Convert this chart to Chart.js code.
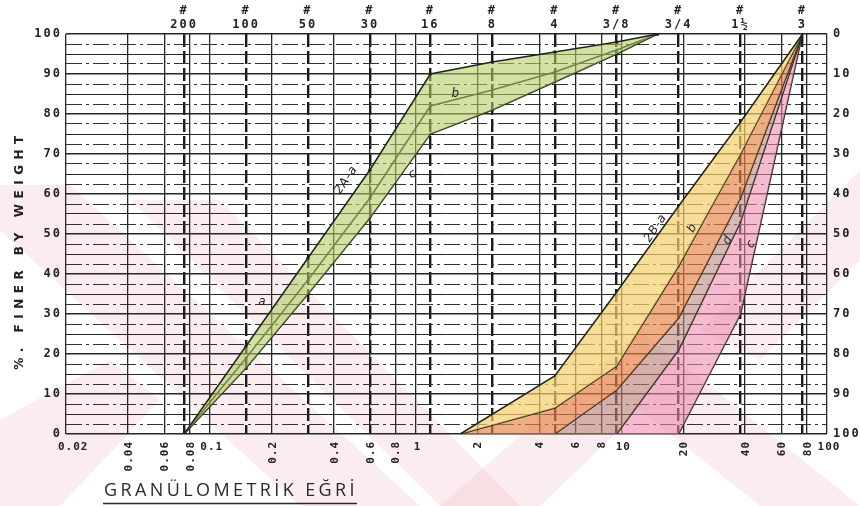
<!DOCTYPE html>
<html>
<head>
<meta charset="utf-8">
<script src="https://cdn.jsdelivr.net/npm/chart.js@4.4.1/dist/chart.umd.min.js"></script>
<style>
html,body{margin:0;padding:0;background:#fff;}
#wrap{width:860px;height:506px;}
</style>
</head>
<body>
<div id="wrap"><canvas id="c" width="860" height="506"></canvas></div>
<script>
// ---------------- data ----------------
const xTickValues  = [0.02,0.04,0.06,0.08,0.1,0.2,0.4,0.6,0.8,1,2,4,6,8,10,20,40,60,80,100];
const xTickLabels  = ['0.02','0.04','0.06','0.08','0.1','0.2','0.4','0.6','0.8','1','2','4','6','8','10','20','40','60','80','100'];
const xTickUpright = [true,false,false,false,true,false,false,false,false,true,false,false,false,false,true,false,false,false,false,true];

const sieveSizes  = [0.075,0.15,0.3,0.6,1.18,2.36,4.75,9.5,19,38,76];
const sieveLabels = ['200','100','50','30','16','8','4','3/8','3/4','1½','3'];

const minorGridValues = [2.5,7.5,12.5,17.5,22.5,27.5,32.5,37.5,42.5,47.5,52.5,57.5,62.5,67.5,72.5,77.5,82.5,87.5,92.5,97.5];

// 2A band (green)
const sizes2A  = [0.075,0.15,0.3,0.6,1.18,2.36,4.75,9.5,15];
const pass2A_a = [0,22,44,66,90,93,95.5,98,100];
const pass2A_b = [0,19,38.5,59,82,86,90.5,96,100];
const pass2A_c = [0,16.5,35,54,75,81,88,95,100];

// 2B band (yellow / orange / pink)
const sizes2B  = [1.65,4.75,9.5,19,38,76];
const pass2B_1 = [0,14.5,35.5,57,78,100];
const pass2B_2 = [0,6.5,17,42,70,100];
const pass2B_3 = [0,0,11,29,59,100];
const pass2B_4 = [0,0,0,21,53,100];
const pass2B_5 = [0,0,0,0,30,100];

// curve annotations (text, size mm, percent, rotation)
const curveNotes = [
  ['2A-a',0.46,63.5,-56], ['b',1.57,85,0], ['c',0.97,65,-30], ['a',0.18,33,0],
  ['2B-a',14.7,51.5,-56], ['b',22.2,51.5,-60], ['d',33,48.5,-60], ['c',42.8,47.5,-60]
];

// ---------------- styles ----------------
const INK = '#222';
const tickFont = {family:'"DejaVu Sans Mono", monospace', weight:'bold', size:12};

function mk(xs, ys, fillColor, fillTarget, pr){
  return {
    data: xs.map((x,i)=>({x:x, y:ys[i]})),
    borderColor: '#1f2419',
    borderWidth: 1.5,
    pointRadius: pr,
    pointBackgroundColor: '#1f2419',
    pointBorderWidth: 0,
    backgroundColor: fillColor || 'transparent',
    fill: fillTarget ? fillTarget : false,
    tension: 0,
    xAxisID: 'x', yAxisID: 'y'
  };
}

const watermark = {
  id:'watermark',
  beforeDraw(chart){
    const ctx = chart.ctx;
    ctx.save();
    ctx.fillStyle = '#ffffff';
    ctx.fillRect(0,0,chart.width,chart.height);
    ctx.fillStyle = 'rgba(238,180,188,0.24)';
    const polys = [
      [[0,185],[70,185],[420,506],[300,506],[0,230]],
      [[130,200],[220,200],[520,506],[440,506]],
      [[440,506],[640,330],[860,506],[760,506],[640,410],[540,506]],
      [[700,330],[860,170],[860,260],[760,360]],
      [[0,420],[0,506],[60,506],[160,400],[110,360]]
    ];
    polys.forEach(p=>{
      ctx.beginPath();
      p.forEach(([x,y],i)=> i?ctx.lineTo(x,y):ctx.moveTo(x,y));
      ctx.closePath(); ctx.fill();
    });
    ctx.restore();
    ctx.letterSpacing = '2px';
  }
};

const texts = {
  id:'texts',
  afterDraw(chart){
    const ctx = chart.ctx, xs = chart.scales.x, ys = chart.scales.y, ca = chart.chartArea;
    ctx.save();
    ctx.fillStyle = INK;
    ctx.font = 'bold 11px "DejaVu Sans Mono", monospace';
    ctx.letterSpacing = '1px';
    xTickValues.forEach((v,i)=>{
      const px = xs.getPixelForValue(v);
      if (xTickUpright[i]) {
        ctx.textAlign = i===0 ? 'left' : 'center';
        ctx.textBaseline = 'middle';
        ctx.fillText(xTickLabels[i], i===0 ? px-8 : px+2, ca.bottom+13);
      } else {
        ctx.save();
        ctx.translate(px+1, ca.bottom+7);
        ctx.rotate(-Math.PI/2);
        ctx.textAlign = 'right';
        ctx.textBaseline = 'middle';
        ctx.fillText(xTickLabels[i], 0, 0);
        ctx.restore();
      }
    });
    // left axis title
    ctx.save();
    ctx.translate(20, (ca.top+ca.bottom)/2 + 16);
    ctx.rotate(-Math.PI/2);
    ctx.font = 'bold 12px "DejaVu Sans", sans-serif';
    ctx.letterSpacing = '5.5px';
    ctx.textAlign = 'center'; ctx.textBaseline = 'middle';
    ctx.fillText('%. FINER BY WEIGHT', 0, 0);
    ctx.restore();
    // curve notes
    ctx.font = 'italic 12px "DejaVu Sans", sans-serif';
    ctx.letterSpacing = '1px';
    curveNotes.forEach(([t,x,y,rot])=>{
      ctx.save();
      ctx.translate(xs.getPixelForValue(x), ys.getPixelForValue(y));
      ctx.rotate(rot*Math.PI/180);
      ctx.textAlign='center'; ctx.textBaseline='middle';
      ctx.fillText(t,0,0);
      ctx.restore();
    });
    // bottom title
    ctx.font = '18px "Open Sans", sans-serif';
    ctx.letterSpacing = '3.4px';
    ctx.fillStyle = '#2a2a2a';
    ctx.textAlign = 'left'; ctx.textBaseline = 'alphabetic';
    ctx.fillText('GRANÜLOMETRİK EĞRİ', 104, 496);
    ctx.strokeStyle = '#2a2a2a'; ctx.lineWidth = 1.4;
    ctx.beginPath(); ctx.moveTo(103,503.5); ctx.lineTo(357,503.5); ctx.stroke();
    ctx.restore();
  }
};

new Chart(document.getElementById('c'), {
  type: 'line',
  data: { datasets: [
    mk(sizes2A, pass2A_a, 'rgba(178,204,98,0.58)', '+2', 1.8),
    mk(sizes2A, pass2A_b, null, false, 1.5),
    mk(sizes2A, pass2A_c, null, false, 1.5),
    mk(sizes2B, pass2B_1, 'rgba(245,206,108,0.7)', '+1', 0),
    mk(sizes2B, pass2B_2, 'rgba(230,130,70,0.66)', '+1', 0),
    mk(sizes2B, pass2B_3, 'rgba(186,132,122,0.58)', '+1', 0),
    mk(sizes2B, pass2B_4, 'rgba(238,138,176,0.58)', '+1', 0),
    mk(sizes2B, pass2B_5, null, false, 0)
  ]},
  options: {
    responsive: false,
    animation: false,
    layout: { padding: 0 },
    plugins: { legend: {display:false}, tooltip: {enabled:false}, title:{display:false} },
    scales: {
      x: {
        type:'logarithmic', position:'bottom', min:0.02, max:100,
        afterBuildTicks: s => { s.ticks = xTickValues.map(v=>({value:v})); },
        ticks: { display:false },
        grid: { color:'#262626', lineWidth:1.3, drawTicks:false },
        border: { display:false },
        afterFit: s => { s.height = 72; }
      },
      x2: {
        type:'logarithmic', position:'top', min:0.02, max:100,
        afterBuildTicks: s => { s.ticks = sieveSizes.map(v=>({value:v})); },
        ticks: { autoSkip:false, maxRotation:0, padding:2, color:INK, font:tickFont,
                 callback: (v,i) => ['#', sieveLabels[i]] },
        grid: { color:'#1a1a1a', lineWidth:2.4, drawTicks:false },
        border: { display:false, dash:[13,4] },
        afterFit: s => { s.height = 34; }
      },
      y: {
        position:'left', min:0, max:100,
        ticks: { stepSize:5, padding:4, color:INK, font:tickFont,
                 callback: v => (v % 10 === 0 ? String(v) : '') },
        grid: { color:'#262626', drawTicks:false,
                lineWidth: c => (c.tick && c.tick.value % 10 === 0 ? 1.4 : 1.0) },
        border: { display:false },
        afterFit: s => { s.width = 66; }
      },
      yMinor: {
        position:'left', min:0, max:100,
        afterBuildTicks: s => { s.ticks = minorGridValues.map(v=>({value:v})); },
        ticks: { display:false },
        grid: { color:'#333', lineWidth:1, drawTicks:false },
        border: { display:false, dash:[16,4,3,4] },
        afterFit: s => { s.width = 0; }
      },
      y2: {
        position:'right', reverse:true, min:0, max:100,
        ticks: { stepSize:10, padding:6, color:INK, font:tickFont },
        grid: { drawOnChartArea:false, drawTicks:false },
        border: { display:false },
        afterFit: s => { s.width = 33; }
      }
    }
  },
  plugins: [watermark, texts]
});
</script>
</body>
</html>
